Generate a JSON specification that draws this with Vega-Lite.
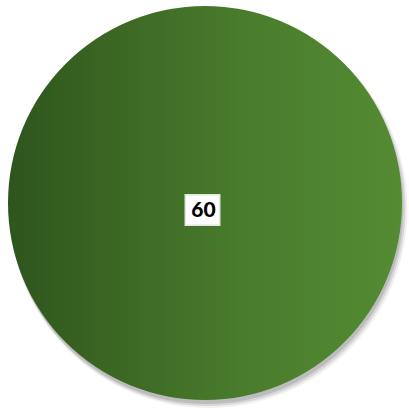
{
  "$schema": "https://vega.github.io/schema/vega-lite/v6.json",
  "autosize": {"type": "fit", "contains": "padding"},
  "width": 409,
  "height": 408,
  "padding": 0,
  "background": "white",
  "view": {"stroke": null},
  "data": {"values": [{"category": "A", "value": 60}]},
  "layer": [
    {
      "mark": {"type": "arc", "radius": 199, "color": "#000000", "opacity": 0.06, "xOffset": 4, "yOffset": 5},
      "encoding": {"theta": {"field": "value", "type": "quantitative", "stack": true}}
    },
    {
      "mark": {"type": "arc", "radius": 198, "color": "#000000", "opacity": 0.1, "xOffset": 3, "yOffset": 4},
      "encoding": {"theta": {"field": "value", "type": "quantitative", "stack": true}}
    },
    {
      "mark": {"type": "arc", "radius": 197, "color": "#000000", "opacity": 0.12, "xOffset": 2, "yOffset": 3},
      "encoding": {"theta": {"field": "value", "type": "quantitative", "stack": true}}
    },
    {
      "mark": {
        "type": "arc",
        "radius": 197,
        "xOffset": 0.5,
        "yOffset": -1,
        "color": {
          "x1": 0, "y1": 0, "x2": 1, "y2": 0,
          "gradient": "linear",
          "stops": [
            {"offset": 0, "color": "#2e551d"},
            {"offset": 0.35, "color": "#3f6c26"},
            {"offset": 0.6, "color": "#497c2c"},
            {"offset": 1, "color": "#548b33"}
          ]
        }
      },
      "encoding": {
        "theta": {"field": "value", "type": "quantitative", "stack": true},
        "tooltip": {"field": "value", "type": "quantitative"}
      }
    },
    {
      "mark": {"type": "point", "shape": "M-1,-0.88L1,-0.88L1,0.88L-1,0.88Z", "filled": true, "color": "#ffffff", "opacity": 1, "size": 1190, "xOffset": -2, "yOffset": 6, "stroke": "#dfe8da", "strokeWidth": 1.5},
      "encoding": {}
    },
    {
      "mark": {"type": "text", "font": "Lato", "fontWeight": 900, "fontSize": 21, "color": "#000000", "xOffset": -1, "yOffset": 7, "baseline": "middle", "align": "center", "letterSpacing": -0.5},
      "encoding": {"text": {"field": "value", "type": "quantitative"}}
    }
  ]
}
